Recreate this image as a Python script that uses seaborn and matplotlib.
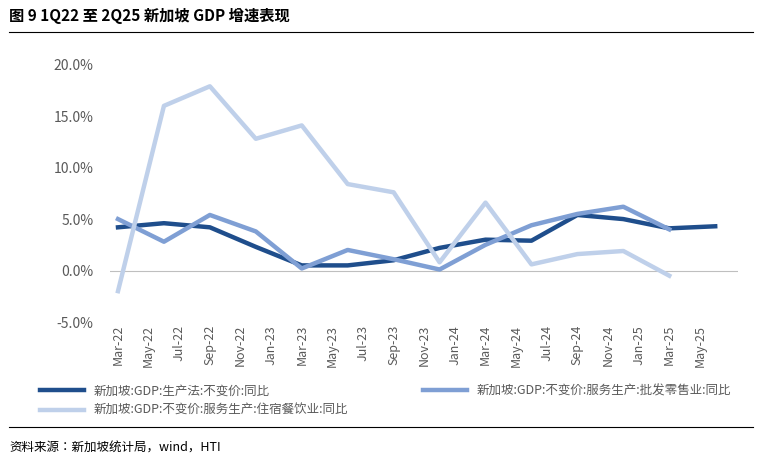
import matplotlib
matplotlib.use("Agg")
import matplotlib.pyplot as plt
from matplotlib import font_manager
import seaborn as sns
import pandas as pd

names = {f.name for f in font_manager.fontManager.ttflist}
cjk = [n for n in ["Noto Sans CJK SC", "Noto Sans CJK JP", "Noto Sans CJK TC", "Noto Sans CJK KR"] if n in names]
if not cjk:
    cjk = [f.name for f in font_manager.fontManager.ttflist if "CJK" in f.name][:1]
plt.rcParams["font.family"] = cjk + ["DejaVu Sans"]
plt.rcParams["axes.unicode_minus"] = False

QUARTERS = ["Mar-22", "Jun-22", "Sep-22", "Dec-22", "Mar-23", "Jun-23", "Sep-23",
            "Dec-23", "Mar-24", "Jun-24", "Sep-24", "Dec-24", "Mar-25", "Jun-25"]
GDP_TOTAL = [4.2, 4.6, 4.2, 2.3, 0.5, 0.5, 1.0, 2.2, 3.0, 2.9, 5.4, 5.0, 4.1, 4.3]
GDP_TRADE = [5.0, 2.8, 5.4, 3.8, 0.2, 2.0, 1.1, 0.1, 2.5, 4.4, 5.5, 6.2, 4.0]
GDP_HOTEL = [-2.0, 16.0, 17.9, 12.8, 14.1, 8.4, 7.6, 0.8, 6.6, 0.6, 1.6, 1.9, -0.5]
TICK_LABELS = ["Mar-22", "May-22", "Jul-22", "Sep-22", "Nov-22", "Jan-23", "Mar-23",
               "May-23", "Jul-23", "Sep-23", "Nov-23", "Jan-24", "Mar-24", "May-24",
               "Jul-24", "Sep-24", "Nov-24", "Jan-25", "Mar-25", "May-25"]

SERIES = [
    ("新加坡:GDP:生产法:不变价:同比", GDP_TOTAL, "#1f4e8c"),
    ("新加坡:GDP:不变价:服务生产:批发零售业:同比", GDP_TRADE, "#7f9fd4"),
    ("新加坡:GDP:不变价:服务生产:住宿餐饮业:同比", GDP_HOTEL, "#bfd0ea"),
]

fig = plt.figure(figsize=(7.61, 4.62), dpi=100)
ax = fig.add_axes([0.145, 0.303, 0.825, 0.557])

for name, vals, color in SERIES:
    df = pd.DataFrame({"m": [3 * i for i in range(len(vals))], "v": vals})
    sns.lineplot(data=df, x="m", y="v", ax=ax, color=color, linewidth=3.2, label=name)

ax.set_xlim(-0.5, 40.5)
ax.set_ylim(-5, 20)
ax.set_yticks([-5, 0, 5, 10, 15, 20])
ax.set_yticklabels([f"{t:.1f}%" for t in [-5, 0, 5, 10, 15, 20]], color="#595959", fontsize=10)
ax.set_xticks([2 * i for i in range(len(TICK_LABELS))])
ax.set_xticklabels(TICK_LABELS, rotation=90, color="#595959", fontsize=9)
ax.spines[["top", "right", "left", "bottom"]].set_visible(False)
ax.axhline(0, color="#bfbfbf", linewidth=0.8, zorder=0)
ax.tick_params(length=0)
ax.tick_params(axis="y", pad=12)
ax.tick_params(axis="x", pad=2)
ax.set_xlabel("")
ax.set_ylabel("")

h, l = ax.get_legend_handles_labels()
order = [0, 2, 1]
ax.legend([h[i] for i in order], [l[i] for i in order], loc="upper left",
          bbox_to_anchor=(-0.13, -0.2), ncol=2, frameon=False, fontsize=9,
          labelcolor="#595959", columnspacing=6, handlelength=3.5)

fig.text(0.012, 0.965, "图 9 1Q22 至 2Q25 新加坡 GDP 增速表现", fontsize=11, weight="bold",
         va="center")
fig.add_artist(plt.Line2D([0.012, 0.99], [0.93, 0.93], color="black", linewidth=0.8))
fig.add_artist(plt.Line2D([0.012, 0.99], [0.075, 0.075], color="black", linewidth=0.8))
fig.text(0.012, 0.03, "资料来源：新加坡统计局，wind，HTI", fontsize=9, va="center")

fig.savefig("out.png", dpi=100)
